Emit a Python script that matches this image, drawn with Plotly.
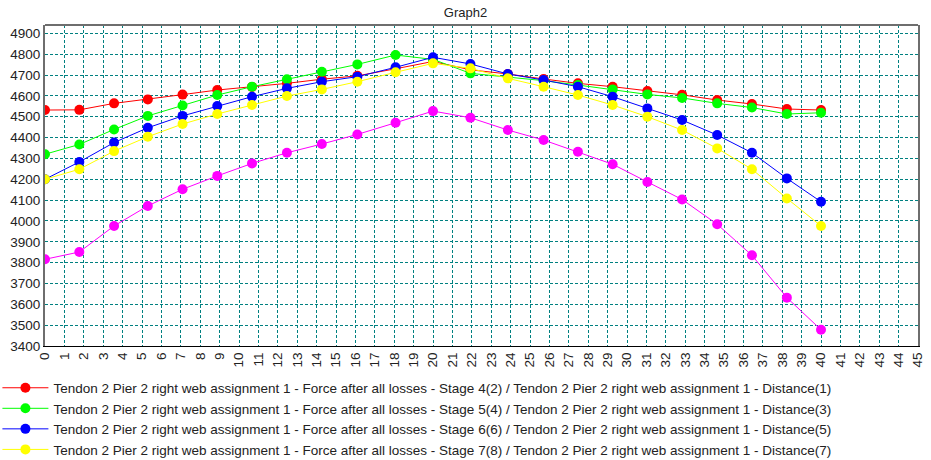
import plotly.graph_objects as go

# Distance along the tendon (stations)
distance = [0, 1.77, 3.56, 5.3, 7.09, 8.88, 10.67, 12.47, 14.27, 16.1, 18.07, 20,
            21.93, 23.86, 25.7, 27.47, 29.26, 31.05, 32.84, 34.65, 36.44, 38.24, 40]

# Force after all losses per stage
stage4 = [4532, 4533, 4564, 4583, 4606, 4628, 4643, 4660, 4680, 4696, 4730, 4765,
          4725, 4705, 4681, 4660, 4644, 4623, 4605, 4580, 4561, 4537, 4532]
stage5 = [4320, 4367, 4439, 4504, 4554, 4604, 4644, 4680, 4716, 4751, 4796, 4775,
          4708, 4690, 4673, 4652, 4631, 4607, 4590, 4564, 4544, 4513, 4519]
stage6 = [4200, 4283, 4376, 4447, 4504, 4551, 4596, 4636, 4668, 4692, 4737, 4785,
          4753, 4705, 4676, 4644, 4596, 4540, 4484, 4412, 4327, 4204, 4092]
stage7 = [4200, 4248, 4335, 4404, 4465, 4513, 4556, 4599, 4631, 4668, 4713, 4756,
          4732, 4684, 4644, 4604, 4556, 4500, 4436, 4348, 4248, 4108, 3976]
stage8 = [3816, 3851, 3976, 4072, 4152, 4216, 4276, 4327, 4369, 4415, 4471, 4527,
          4495, 4436, 4388, 4332, 4272, 4187, 4103, 3984, 3835, 3632, 3478]

prefix = "Tendon 2 Pier 2 right web assignment 1 - "
series = [
    (stage4, "#ff0000", prefix + "Force after all losses - Stage 4(2) / " + prefix + "Distance(1)", True),
    (stage5, "#00ff00", prefix + "Force after all losses - Stage 5(4) / " + prefix + "Distance(3)", True),
    (stage6, "#0000ff", prefix + "Force after all losses - Stage 6(6) / " + prefix + "Distance(5)", True),
    (stage7, "#ffff00", prefix + "Force after all losses - Stage 7(8) / " + prefix + "Distance(7)", True),
    (stage8, "#ff00ff", prefix + "Force after all losses - Stage 8(10) / " + prefix + "Distance(9)", False),
]

y_ticks = list(range(3400, 5000, 100))
x_ticks = list(range(0, 46))

FONT = "Liberation Sans, Arial, sans-serif"

fig = go.Figure()
for values, color, name, in_legend in series:
    fig.add_trace(go.Scatter(
        x=distance, y=values, name=name, mode="lines+markers",
        line=dict(color=color, width=1),
        marker=dict(color=color, size=10, symbol="circle"),
        showlegend=in_legend,
    ))

fig.update_layout(
    width=931, height=460,
    margin=dict(l=45, r=13, t=25, b=114, autoexpand=False),
    paper_bgcolor="white", plot_bgcolor="white",
    font=dict(family=FONT, size=13, color="#222222"),
    title=dict(text="Graph2", x=0.5, xanchor="center", y=0.972, yanchor="middle",
               font=dict(family=FONT, size=13, color="#222222")),
    showlegend=True,
    legend=dict(orientation="v", x=-0.0545, xanchor="left", y=-0.0825, yanchor="top",
                font=dict(family=FONT, size=13.5, color="#222222"),
                bgcolor="rgba(0,0,0,0)", itemwidth=46, tracegroupgap=0),
    xaxis=dict(range=[0, 45], tickmode="array", tickvals=x_ticks,
               ticktext=[str(v) for v in x_ticks], tickangle=-90,
               showgrid=True, gridcolor="#008080", griddash="3px,2px", gridwidth=1,
               showline=True, linecolor="#000000", linewidth=1, automargin=False,
               ticks="", zeroline=False, tickfont=dict(size=13.5)),
    yaxis=dict(range=[3400, 4940], tickmode="array", tickvals=y_ticks,
               ticktext=[str(v) for v in y_ticks], automargin=False,
               showgrid=True, gridcolor="#008080", griddash="3px,2px", gridwidth=1,
               showline=True, linecolor="#6e6e6e", linewidth=2, mirror=True,
               ticks="", zeroline=False, tickfont=dict(size=13.5)),
)

# top border of the plotting frame
fig.add_shape(type="line", xref="paper", yref="paper", x0=0, x1=1, y0=1, y1=1,
              line=dict(color="#6e6e6e", width=2))

fig.write_html("out.html")
